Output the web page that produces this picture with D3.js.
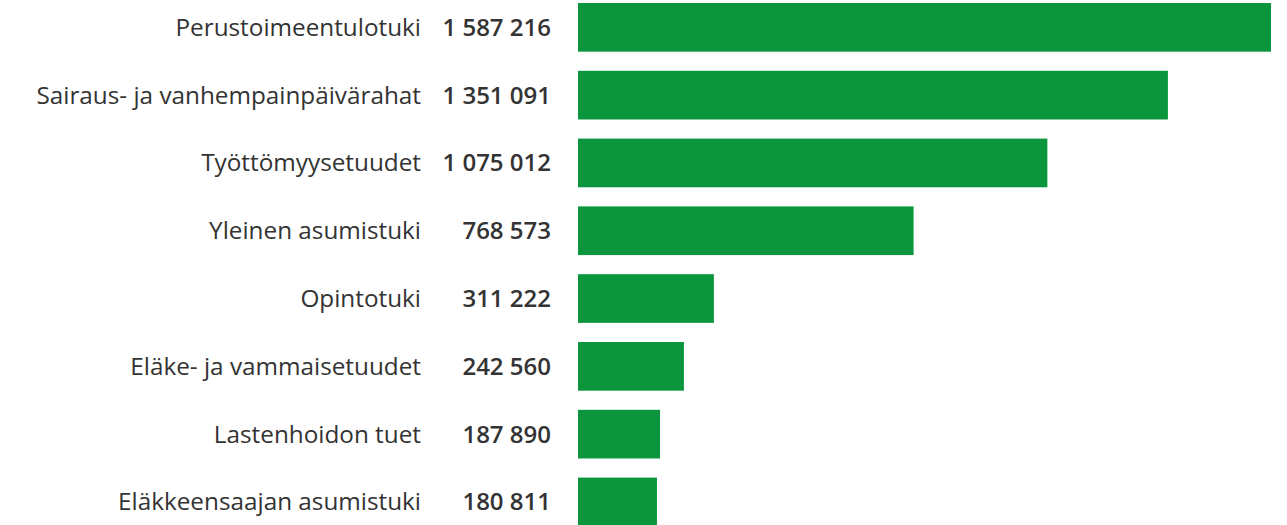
<!DOCTYPE html>
<html>
<head>
<meta charset="utf-8">
<script src="https://cdn.jsdelivr.net/npm/d3@7"></script>
<style>
  body { margin: 0; background: #fff; }
  svg text { font-family: "Open Sans", sans-serif; fill: #333; }
  .label { font-size: 24.3px; }
  .value { font-size: 24px; font-weight: 600; }
</style>
</head>
<body>
<div class="bar-chart-container"></div>
<script>
// benefit names and recipient counts
const categories = [
  'Perustoimeentulotuki',
  'Sairaus- ja vanhempainpäivärahat',
  'Työttömyysetuudet',
  'Yleinen asumistuki',
  'Opintotuki',
  'Eläke- ja vammaisetuudet',
  'Lastenhoidon tuet',
  'Eläkkeensaajan asumistuki'
];
const values = [1587216, 1351091, 1075012, 768573, 311222, 242560, 187890, 180811];
const valueLabels = ['1 587 216', '1 351 091', '1 075 012', '768 573', '311 222', '242 560', '187 890', '180 811'];

const barData = categories.map((c, i) => ({name: c, value: values[i], label: valueLabels[i]}));

const svg_width = 1287;
const svg_height = 525;
const step = 67.8;
const pad = 0.282;

const svg = d3.select('.bar-chart-container').append('svg')
  .attr('width', svg_width).attr('height', svg_height);

const xScale = d3.scaleLinear().domain([0, d3.max(values)]).range([578, 1271]);

const y0 = 3 - pad / 2 * step;
const yScale = d3.scaleBand().domain(categories)
  .range([y0, y0 + categories.length * step])
  .paddingInner(pad).paddingOuter(pad / 2);

svg.selectAll('.bars')
  .data(barData)
  .enter()
  .append('rect')
  .attr('class', 'bars')
  .attr('x', xScale(0))
  .attr('y', d => yScale(d.name))
  .attr('width', d => xScale(d.value) - xScale(0))
  .attr('height', yScale.bandwidth())
  .style('fill', '#0b963d');

svg.selectAll('.label')
  .data(barData)
  .enter()
  .append('text')
  .attr('class', 'label')
  .attr('x', 421)
  .attr('y', d => yScale(d.name) + yScale.bandwidth() / 2)
  .attr('dy', '0.35em')
  .attr('text-anchor', 'end')
  .text(d => d.name);

svg.selectAll('.value')
  .data(barData)
  .enter()
  .append('text')
  .attr('class', 'value')
  .attr('x', 551)
  .attr('y', d => yScale(d.name) + yScale.bandwidth() / 2)
  .attr('dy', '0.35em')
  .attr('text-anchor', 'end')
  .text(d => d.label);
</script>
</body>
</html>
